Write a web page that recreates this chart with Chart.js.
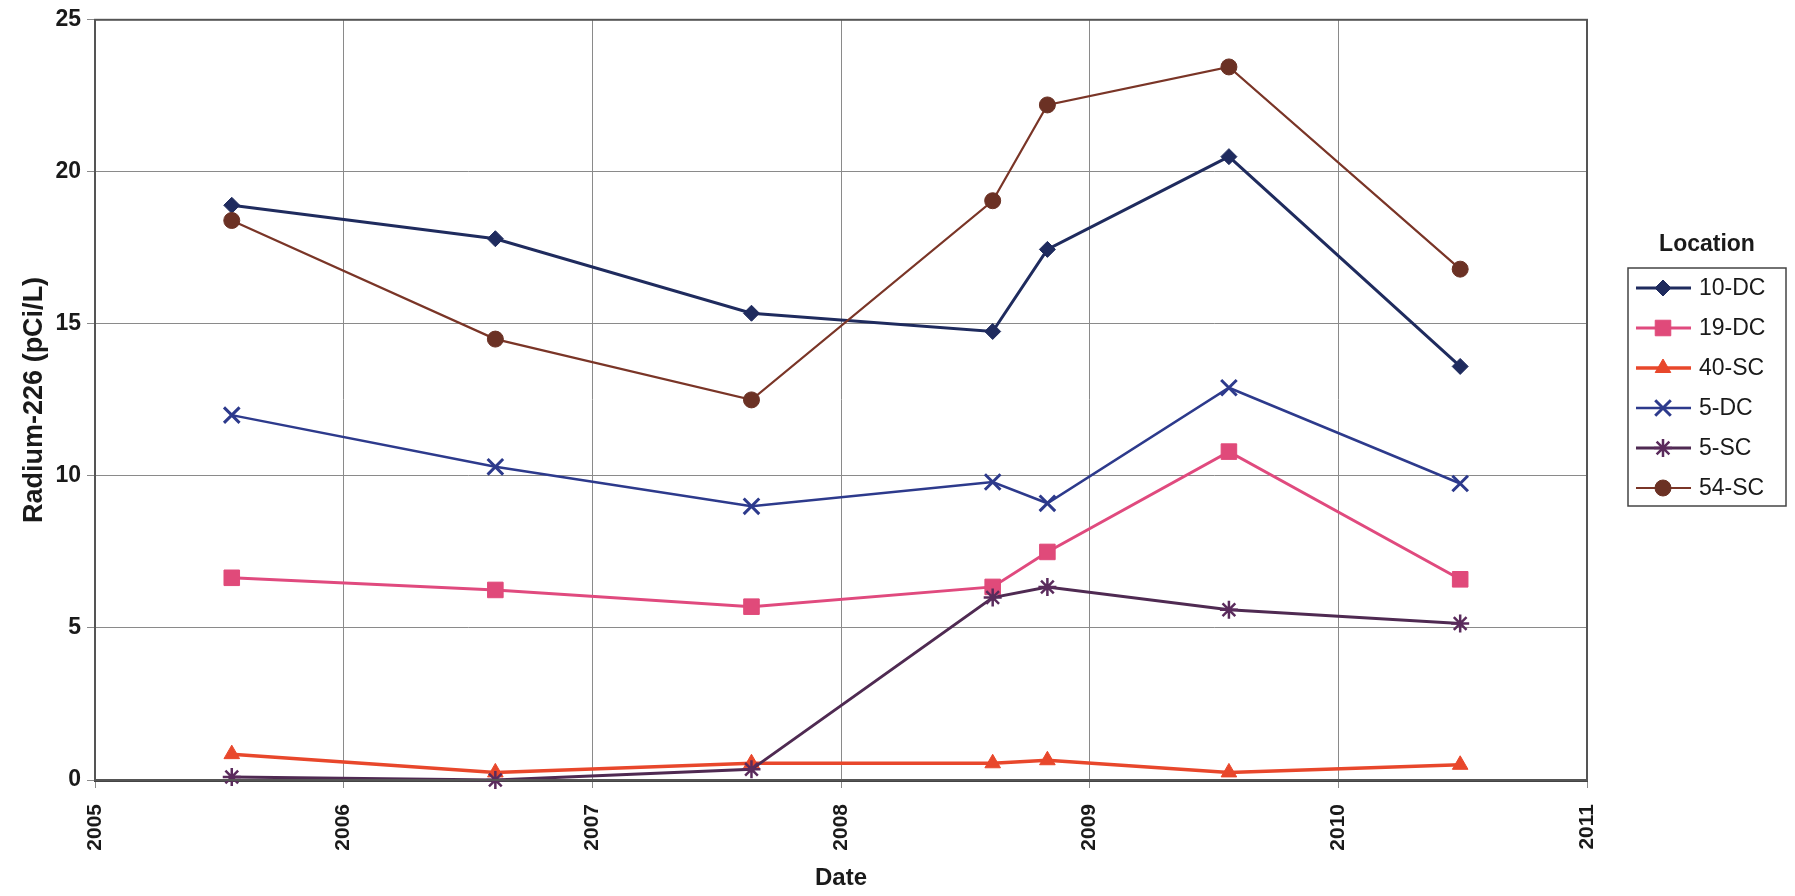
<!DOCTYPE html>
<html lang="en">
<head>
  <meta charset="UTF-8" />
  <title>Radium-226 by Location</title>
  <script src="https://cdn.jsdelivr.net/npm/chart.js"></script>
  <style>
    html, body { margin: 0; padding: 0; background: #fff; }
    #wrap { width: 1795px; height: 896px; position: relative; }
  </style>
</head>
<body>
  <div id="wrap"><canvas id="radChart"></canvas></div>

  <script>
    // sample dates (decimal years) and results per location, pCi/L
    const sampleDates = [2005.55, 2006.61, 2007.64, 2008.61, 2008.83, 2009.56, 2010.49];
    const locations = ['10-DC', '19-DC', '40-SC', '5-DC', '5-SC', '54-SC'];
    const dc10 = [18.9, 17.8, 15.35, 14.75, 17.45, 20.5, 13.6];
    const dc19 = [6.65, 6.25, 5.7, 6.35, 7.5, 10.8, 6.6];
    const sc40 = [0.85, 0.25, 0.55, 0.55, 0.65, 0.25, 0.5];
    const dc5  = [12.0, 10.3, 9.0, 9.8, 9.1, 12.9, 9.75];
    const sc5  = [0.1, 0.0, 0.35, 6.0, 6.35, 5.6, 5.15];
    const sc54 = [18.4, 14.5, 12.5, 19.05, 22.2, 23.45, 16.8];
    const yTicks = [0, 5, 10, 15, 20, 25];
    const xTicks = [2005, 2006, 2007, 2008, 2009, 2010, 2011];

    const pts = vals => sampleDates.map((d, i) => ({ x: d, y: vals[i] }));

    Chart.defaults.font.family = '"Liberation Sans", Arial, sans-serif';
    Chart.defaults.color = '#1a1a1a';

    function series(i, vals, color, mark, style) {
      return {
        label: locations[i],
        data: pts(vals),
        borderColor: color,
        backgroundColor: mark,
        pointBackgroundColor: mark,
        pointBorderColor: mark,
        pointStyle: style.p,
        pointRadius: style.r,
        pointBorderWidth: style.pw,
        borderWidth: style.w,
        tension: 0,
        clip: false,
        order: 10 - i
      };
    }

    const datasets = [
      series(0, dc10, '#1f2b5e', '#1f2b5e', { p: 'rectRot', r: 8, pw: 1, w: 3 }),
      series(1, dc19, '#e04a7e', '#e04a7a', { p: 'rect', r: 11, pw: 1, w: 3 }),
      series(2, sc40, '#e8472b', '#e8472b', { p: 'triangle', r: 9, pw: 1, w: 3.5 }),
      series(3, dc5,  '#2d3a8c', '#2d3a8c', { p: 'crossRot', r: 11, pw: 3, w: 2.5 }),
      series(4, sc5,  '#4f2a52', '#5a2b5c', { p: 'star', r: 9, pw: 2.5, w: 3 }),
      series(5, sc54, '#7a3527', '#6b3124', { p: 'circle', r: 8, pw: 1, w: 2.2 })
    ];

    // frame round the plot area
    const frame = {
      id: 'frame',
      afterDatasetsDraw(chart) {
        const a = chart.chartArea, c = chart.ctx;
        c.save();
        c.strokeStyle = '#555';
        c.lineWidth = 2;
        c.strokeRect(a.left, a.top, a.right - a.left, a.bottom - a.top);
        c.restore();
      }
    };

    // Excel-like legend box with line + marker
    const boxLegend = {
      id: 'boxLegend',
      afterDraw(chart) {
        const c = chart.ctx;
        c.save();
        c.fillStyle = '#1a1a1a';
        c.font = 'bold 23px "Liberation Sans", Arial, sans-serif';
        c.textAlign = 'center';
        c.textBaseline = 'middle';
        c.fillText('Location', 1707, 245);
        c.strokeStyle = '#444';
        c.lineWidth = 1.5;
        c.strokeRect(1628, 268, 158, 238);
        c.font = '23px "Liberation Sans", Arial, sans-serif';
        c.textAlign = 'left';
        chart.data.datasets.forEach((ds, i) => {
          const y = 288 + i * 40;
          c.strokeStyle = ds.borderColor;
          c.lineWidth = ds.borderWidth;
          c.beginPath();
          c.moveTo(1636, y);
          c.lineTo(1691, y);
          c.stroke();
          c.fillStyle = ds.pointBackgroundColor;
          c.strokeStyle = ds.pointBorderColor;
          c.lineWidth = ds.pointBorderWidth;
          Chart.helpers.drawPoint(c, { pointStyle: ds.pointStyle, radius: ds.pointRadius, rotation: 0, borderWidth: ds.pointBorderWidth }, 1663, y);
          c.fillStyle = '#1a1a1a';
          c.fillText(ds.label, 1699, y + 1);
        });
        c.restore();
      }
    };

    new Chart(document.getElementById('radChart'), {
      type: 'line',
      data: { datasets },
      options: {
        responsive: true,
        maintainAspectRatio: false,
        animation: false,
        devicePixelRatio: 1,
        layout: { padding: { top: 16, right: 208, left: 0, bottom: 0 } },
        plugins: { legend: { display: false }, tooltip: { enabled: false } },
        scales: {
          x: {
            type: 'linear',
            min: xTicks[0],
            max: xTicks[xTicks.length - 1],
            afterBuildTicks: s => { s.ticks = xTicks.map(v => ({ value: v })); },
            afterFit: s => { s.height = 116; },
            ticks: {
              callback: v => String(v),
              minRotation: 90,
              maxRotation: 90,
              autoSkip: false,
              padding: 16,
              font: { size: 21, weight: 'bold' },
              color: '#1a1a1a'
            },
            grid: { color: '#8a8a8a', lineWidth: 1, tickLength: 8 },
            border: { color: '#444', width: 3 },
            title: {
              display: true,
              text: 'Date',
              font: { size: 24, weight: 'bold' },
              color: '#1a1a1a',
              padding: { top: 0, bottom: 3 }
            }
          },
          y: {
            min: yTicks[0],
            max: yTicks[yTicks.length - 1],
            afterBuildTicks: s => { s.ticks = yTicks.map(v => ({ value: v })); },
            afterFit: s => { s.width = 95; },
            ticks: {
              padding: 6,
              font: { size: 23, weight: 'bold' },
              color: '#1a1a1a'
            },
            grid: { color: '#8a8a8a', lineWidth: 1, tickLength: 8 },
            border: { color: '#555', width: 2 },
            title: {
              display: true,
              text: 'Radium-226 (pCi/L)',
              font: { size: 27, weight: 'bold' },
              color: '#1a1a1a',
              padding: { top: 18, bottom: 0 }
            }
          }
        }
      },
      plugins: [frame, boxLegend]
    });
  </script>
</body>
</html>
